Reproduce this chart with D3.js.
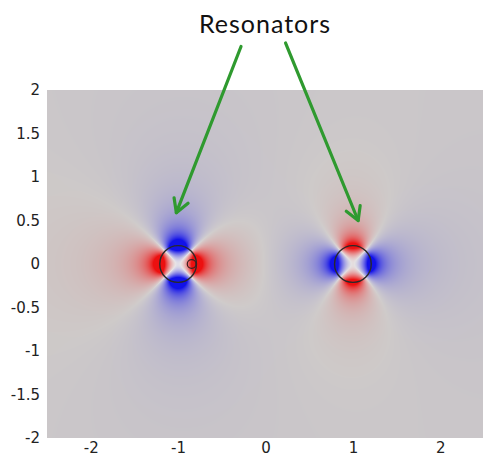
<!DOCTYPE html>
<html>
<head>
<meta charset="utf-8">
<script src="https://cdn.jsdelivr.net/npm/d3@7"></script>
<style>
  body { margin: 0; background: #fff; }
  svg { display: block; }
</style>
</head>
<body>
<div id="chart"></div>
<script>
let width = 483;
let height = 463;

// Axis ticks
const xTicks = [-2, -1, 0, 1, 2];
const yTicks = [2, 1.5, 1, 0.5, 0, -0.5, -1, -1.5, -2];

// Resonators (data coords): centre, radius, mode amplitude, far-field decay, weak offset term
const resX = [-1, 1];
const resY = [0, 0];
const resR = [0.21, 0.21];
const resAmp = [1.1, -0.85];
const resDecay = [2.3, 2.4];
const resMono = [0.02, -0.065];

// small inner ring on the left resonator
const ringX = [-0.845];
const ringY = [0];
const ringR = [0.05];

// Annotation arrows (data coords): start -> tip
const arrowX0 = [-0.28, 0.23];
const arrowY0 = [2.5, 2.54];
const arrowX1 = [-1.02, 1.06];
const arrowY1 = [0.59, 0.5];
const titleText = "Resonators";

let svg = d3.select("#chart").append("svg")
  .attr("width", width)
  .attr("height", height);

// plot box
var pLeft = 47, pTop = 90, pRight = 483, pBottom = 438;

var x = d3.scaleLinear().domain([-2.5, 2.5]).range([47, 484]);
var y = d3.scaleLinear().domain([-2, 2]).range([438, 90]);

// field of the quadrupole resonators
function field(px, py) {
  var v = 0, env = 0;
  for (var i = 0; i < resX.length; i++) {
    var dx = px - resX[i], dy = py - resY[i];
    var r = Math.sqrt(dx * dx + dy * dy) / resR[i];
    var th = Math.atan2(dy, dx);
    var rad, e, m;
    if (r < 1) {
      rad = Math.pow(r, 2.2);
      e = 1;
      m = r;
    } else {
      rad = Math.pow(r, -resDecay[i]);
      e = Math.pow(r, -2.2);
      m = Math.pow(r, -0.8);
    }
    v += resAmp[i] * rad * Math.cos(2 * th) + resMono[i] * m;
    env += Math.abs(resAmp[i]) * e;
  }
  return [v, Math.min(1, env)];
}

var bg = [205, 201, 200];
var white = [236, 234, 236];
var red = [236, 16, 16];
var blue = [18, 18, 232];

function mix(a, b, t) {
  return [a[0] + (b[0] - a[0]) * t, a[1] + (b[1] - a[1]) * t, a[2] + (b[2] - a[2]) * t];
}

// render field into a canvas, then put it in the svg as an image
var W = pRight - pLeft, H = pBottom - pTop;
var canvas = document.createElement("canvas");
canvas.width = W;
canvas.height = H;
var ctx = canvas.getContext("2d");
var img = ctx.createImageData(W, H);
for (var j = 0; j < H; j++) {
  for (var i = 0; i < W; i++) {
    var fx = x.invert(pLeft + i + 0.5);
    var fy = y.invert(pTop + j + 0.5);
    var f = field(fx, fy);
    var base = mix(bg, white, f[1] * 0.85);
    var t = Math.max(-1, Math.min(1, f[0] * 1.8));
    var c = t > 0 ? mix(base, red, Math.pow(t, 0.9)) : mix(base, blue, Math.pow(-t, 0.9));
    var k = (j * W + i) * 4;
    img.data[k] = c[0];
    img.data[k + 1] = c[1];
    img.data[k + 2] = c[2];
    img.data[k + 3] = 255;
  }
}
ctx.putImageData(img, 0, 0);

svg.append("image")
  .attr("x", pLeft)
  .attr("y", pTop)
  .attr("width", W)
  .attr("height", H)
  .attr("href", canvas.toDataURL());

// resonator outlines
svg.append("g")
  .selectAll("circle")
  .data(resX)
  .enter()
  .append("circle")
  .attr("cx", (d, i) => x(d))
  .attr("cy", (d, i) => y(resY[i]))
  .attr("r", (d, i) => x(resR[i]) - x(0))
  .attr("fill", "none")
  .attr("stroke", "#2a2a2a")
  .attr("stroke-width", 1.4);

svg.append("g")
  .selectAll("circle")
  .data(ringX)
  .enter()
  .append("circle")
  .attr("cx", (d, i) => x(d))
  .attr("cy", (d, i) => y(ringY[i]))
  .attr("r", (d, i) => x(ringR[i]) - x(0))
  .attr("fill", "none")
  .attr("stroke", "#3a2020")
  .attr("stroke-width", 1.2);

// axes (labels only, no lines)
var xAxis = svg.append("g")
  .attr("transform", "translate(0," + (pBottom + 1) + ")")
  .call(d3.axisBottom(x).tickValues(xTicks).tickSize(0).tickFormat(d => String(d)));
var yAxis = svg.append("g")
  .attr("transform", "translate(" + (pLeft - 4) + ",0)")
  .call(d3.axisLeft(y).tickValues(yTicks).tickSize(0).tickFormat(d => String(d)));

[xAxis, yAxis].forEach(function (a) {
  a.select(".domain").remove();
  a.selectAll("text")
    .attr("font-family", "'DejaVu Sans', sans-serif")
    .attr("font-size", 15)
    .attr("fill", "#222");
});

// title
svg.append("text")
  .attr("x", 265)
  .attr("y", 33)
  .attr("text-anchor", "middle")
  .attr("font-family", "Lato, 'Open Sans', sans-serif")
  .attr("font-size", 25)
  .attr("letter-spacing", 1)
  .attr("fill", "#111")
  .text(titleText);

// arrows
var green = "#2f9a2f";
arrowX0.forEach(function (d, i) {
  var x0 = x(d), y0 = y(arrowY0[i]), x1 = x(arrowX1[i]), y1 = y(arrowY1[i]);
  var ang = Math.atan2(y1 - y0, x1 - x0);
  var len = 15, spread = Math.PI / 6;
  var g = svg.append("g")
    .attr("stroke", green)
    .attr("stroke-width", 3.2)
    .attr("fill", "none")
    .attr("stroke-linecap", "round")
    .attr("stroke-linejoin", "round");
  g.append("line")
    .attr("x1", x0).attr("y1", y0)
    .attr("x2", x1).attr("y2", y1);
  g.append("path")
    .attr("d", d3.line()([
      [x1 - len * Math.cos(ang - spread), y1 - len * Math.sin(ang - spread)],
      [x1, y1],
      [x1 - len * Math.cos(ang + spread), y1 - len * Math.sin(ang + spread)]
    ]));
});
</script>
</body>
</html>
